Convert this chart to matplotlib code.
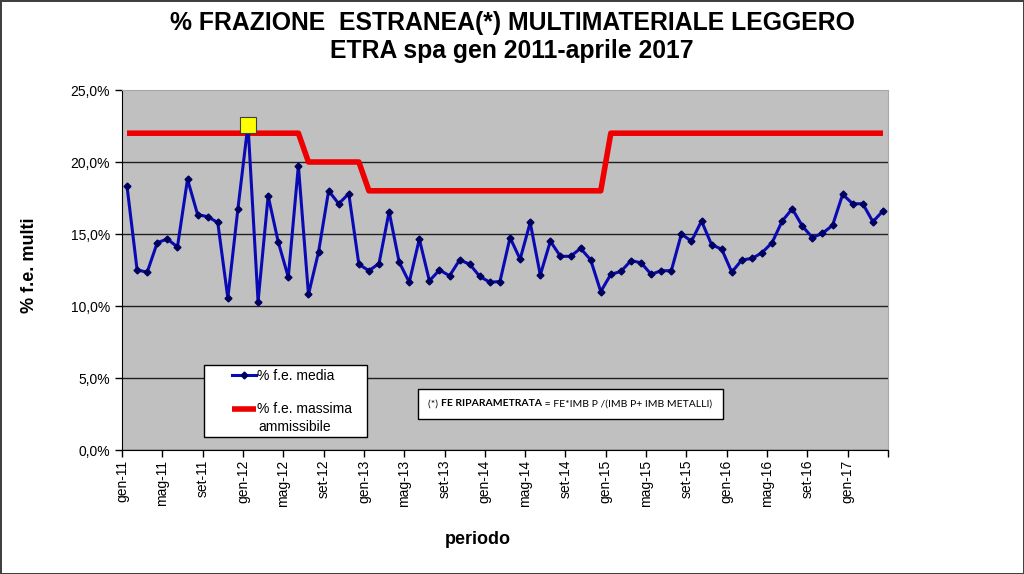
import matplotlib
matplotlib.use("Agg")
from matplotlib import pyplot as plt
from matplotlib.offsetbox import TextArea, HPacker, AnchoredOffsetbox
from matplotlib.patches import Rectangle
import numpy as np

plt.rcParams['font.family'] = ['Liberation Sans', 'DejaVu Sans']

# % f.e. media, monthly gen-11 .. apr-17
media = [18.3, 12.5, 12.35, 14.4, 14.65, 14.1, 18.8, 16.35, 16.2, 15.8,
         10.55, 16.75, 22.6, 10.3, 17.65, 14.45, 12.0, 19.75, 10.8, 13.75,
         18.0, 17.1, 17.8, 12.9, 12.45, 12.95, 16.55, 13.05, 11.65, 14.65,
         11.75, 12.5, 12.1, 13.2, 12.9, 12.05, 11.65, 11.7, 14.75, 13.25,
         15.8, 12.15, 14.5, 13.45, 13.45, 14.0, 13.2, 11.0, 12.2, 12.4,
         13.15, 13.0, 12.2, 12.45, 12.45, 15.0, 14.5, 15.9, 14.25, 13.95,
         12.35, 13.2, 13.3, 13.7, 14.4, 15.9, 16.75, 15.55, 14.75, 15.05,
         15.6, 17.75, 17.1, 17.1, 15.85, 16.6]
# % f.e. massima ammissibile
massima = [22] * 18 + [20] * 6 + [18] * 24 + [22] * 28
# point highlighted with the yellow square
highlight = 12

years = ['11', '12', '13', '14', '15', '16', '17']
months = ['gen', 'mag', 'set']
tick_labels = [m + '-' + y for y in years for m in months][:19]

x = np.arange(len(media))

fig = plt.figure(figsize=(10.24, 5.74), dpi=100)
fig.patch.set_edgecolor('#404040')
fig.patch.set_linewidth(2)
ax = fig.add_axes([122 / 1024, 1 - 450 / 574, 766 / 1024, 360 / 574])
ax.set_facecolor('#C0C0C0')

ax.plot(x, massima, color='#EE0000', lw=4, solid_capstyle='butt', zorder=3,
        label='% f.e. massima')
ax.plot(x, media, color='#0A0AB4', lw=2.2, marker='D', ms=3.5,
        mfc='#000060', mec='#000060', zorder=4, label='% f.e. media')
ax.plot(x[highlight], media[highlight], marker='s', ms=11, mfc='#FFFF00',
        mec='#404040', mew=0.8, ls='none', zorder=5)

ax.set_xlim(-0.5, len(media) - 0.5)
ax.set_ylim(0, 25)
ax.set_yticks(np.arange(0, 26, 5))
ax.set_yticklabels([('%.1f%%' % v).replace('.', ',') for v in np.arange(0, 26, 5)],
                   fontsize=10)
xt = np.arange(-0.5, len(media), 4)
ax.set_xticks(xt)
ax.set_xticklabels(tick_labels + [''] * (len(xt) - len(tick_labels)),
                   rotation=90, fontsize=10, va='top')
ax.tick_params(axis='both', direction='out', length=5, width=1, color='black')
ax.tick_params(axis='x', pad=2)

ax.yaxis.grid(True, color='#202020', lw=1)
ax.get_ygridlines()[-1].set_visible(False)
ax.set_axisbelow(True)
for s in ['top', 'right']:
    ax.spines[s].set_color('#A8A8A8')
for s in ['left', 'bottom']:
    ax.spines[s].set_color('black')

fig.text(0.5, 1 - 23 / 574, '% FRAZIONE  ESTRANEA(*) MULTIMATERIALE LEGGERO',
         ha='center', va='center', fontsize=17.8, fontweight='bold')
fig.text(0.5, 1 - 51 / 574, 'ETRA spa gen 2011-aprile 2017',
         ha='center', va='center', fontsize=17.8, fontweight='bold')
fig.text(30 / 1024, 1 - 265 / 574, '% f.e. multi', rotation=90,
         ha='center', va='center', fontsize=13, fontweight='bold')
fig.text(478 / 1024, 1 - 540 / 574, 'periodo',
         ha='center', va='center', fontsize=13, fontweight='bold')

# legend frame
fig.add_artist(Rectangle((204 / 1024, 1 - 437 / 574), 163 / 1024, 72 / 574,
                         transform=fig.transFigure, facecolor='white',
                         edgecolor='black', lw=1, zorder=6))
handles, labels = ax.get_legend_handles_labels()
leg = fig.legend(handles[::-1][:2], labels[::-1][:2], loc='upper left',
                 bbox_to_anchor=(232 / 1024, 1 - 369 / 574), fontsize=10,
                 frameon=False, handlelength=1.7, handletextpad=0.1,
                 labelspacing=1.4, borderpad=0, borderaxespad=0)
leg.set_zorder(7)
fig.text(258 / 1024, 1 - 427 / 574, 'ammissibile', ha='left', va='center',
         fontsize=10, zorder=8)

note = HPacker(children=[
    TextArea('(*) ', textprops=dict(fontsize=7.5, family='Lato')),
    TextArea('FE RIPARAMETRATA', textprops=dict(fontsize=7.5, family='Lato', fontweight='bold')),
    TextArea(' = FE*IMB P /(IMB P+ IMB METALLI)', textprops=dict(fontsize=7.5, family='Lato')),
], pad=0, sep=0, align='baseline')
box = AnchoredOffsetbox(loc='upper left', child=note, pad=0.75, borderpad=0,
                        frameon=True, bbox_to_anchor=(418 / 1024, 1 - 389 / 574),
                        bbox_transform=fig.transFigure)
box.patch.set_edgecolor('black')
box.patch.set_facecolor('white')
box.patch.set_linewidth(1)
fig.add_artist(box)

fig.savefig('out.png', dpi=100)
